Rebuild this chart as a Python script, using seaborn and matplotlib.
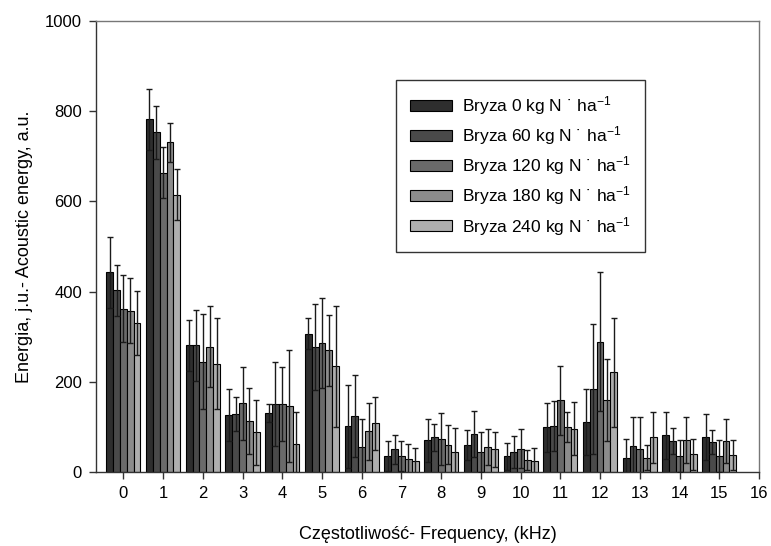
import numpy as np
import pandas as pd
import matplotlib
matplotlib.use('Agg')
import matplotlib.pyplot as plt
import seaborn as sns

# ==============================================================================
# Data (means and error half-widths per frequency band)
# ==============================================================================
freqs = list(range(16))
doses = ['0', '60', '120', '180', '240']

mean_0 = [443, 782, 281, 126, 130, 307, 101, 36, 70, 60, 35, 99, 110, 32, 81, 78]
mean_60 = [403, 753, 281, 128, 150, 277, 125, 50, 77, 85, 44, 102, 184, 58, 68, 67]
mean_120 = [362, 664, 245, 152, 150, 286, 55, 35, 73, 44, 52, 159, 289, 50, 36, 35]
mean_180 = [358, 731, 278, 114, 146, 270, 90, 29, 61, 55, 26, 100, 160, 32, 70, 69]
mean_240 = [330, 615, 240, 88, 63, 234, 108, 24, 44, 50, 24, 96, 221, 77, 39, 38]

err_0 = [79, 68, 57, 57, 20, 35, 93, 33, 47, 33, 30, 54, 73, 41, 52, 51]
err_60 = [56, 58, 79, 38, 93, 96, 91, 33, 30, 51, 36, 55, 145, 65, 29, 27]
err_120 = [74, 56, 106, 80, 82, 100, 62, 33, 57, 44, 44, 76, 154, 73, 35, 35]
err_180 = [73, 43, 90, 73, 124, 79, 64, 34, 43, 40, 22, 34, 91, 27, 51, 48]
err_240 = [71, 56, 101, 72, 70, 135, 59, 30, 54, 38, 29, 59, 121, 57, 34, 33]

means = [mean_0, mean_60, mean_120, mean_180, mean_240]
errs = [err_0, err_60, err_120, err_180, err_240]
colors = ['#2e2e2e', '#4a4a4a', '#6a6a6a', '#8c8c8c', '#aeaeae']

labels = [f'Bryza {d} kg N \u02d9 ha$^{{\\mathregular{{-1}}}}$' for d in doses]

rows = []
for lab, m, e in zip(labels, means, errs):
    for f, v, s in zip(freqs, m, e):
        rows.append({'freq': f, 'energy': v, 'err': s, 'group': lab})
df = pd.DataFrame(rows)

# ==============================================================================
# Plot
# ==============================================================================
sns.set_style('white')
plt.rcParams['font.family'] = ['Liberation Sans', 'DejaVu Sans']
plt.rcParams['mathtext.fontset'] = 'custom'
plt.rcParams['mathtext.rm'] = 'Liberation Sans'
plt.rcParams['mathtext.it'] = 'Liberation Sans'
plt.rcParams['text.color'] = 'black'
plt.rcParams['axes.labelcolor'] = 'black'
plt.rcParams['xtick.color'] = 'black'
plt.rcParams['ytick.color'] = 'black'

fig = plt.figure(figsize=(7.71, 5.46), dpi=100)
ax = fig.add_axes([0.1245, 0.1355, 0.8599, 0.826])

sns.barplot(data=df, x='freq', y='energy', hue='group', hue_order=labels,
            palette=colors, width=0.86, gap=0, errorbar=None,
            edgecolor='black', linewidth=0.8, saturation=1, ax=ax)

# error bars on top of each bar, positions taken from the drawn patches
n = len(freqs)
for i, lab in enumerate(labels):
    sub = df[df['group'] == lab]
    patches = ax.patches[i * n:(i + 1) * n]
    xs = [p.get_x() + p.get_width() / 2 for p in patches]
    ax.errorbar(xs, sub['energy'].values, yerr=sub['err'].values, fmt='none',
                ecolor='#1a1a1a', elinewidth=1.0, capsize=2.5, capthick=1.0, zorder=3)

ax.set_xlim(-0.69, 16)
ax.set_ylim(0, 1000)
ax.set_xticks(range(17))
ax.set_xticklabels([str(i) for i in range(17)])
ax.set_yticks(range(0, 1001, 200))

for side in ['left', 'bottom', 'top', 'right']:
    ax.spines[side].set_visible(True)
    ax.spines[side].set_color('#333333')
    ax.spines[side].set_linewidth(1.0)
ax.spines['top'].set_color('#777777')
ax.spines['right'].set_color('#777777')
ax.tick_params(axis='both', direction='out', length=5, width=1, color='#333333',
               labelsize=12, bottom=True, left=True, pad=5)

ax.set_xlabel('Częstotliwość- Frequency, (kHz)', fontsize=13, labelpad=18)
ax.set_ylabel('Energia, j.u.- Acoustic energy, a.u.', fontsize=13, labelpad=9)

leg = ax.legend(loc='upper left', bbox_to_anchor=(0.4525, 0.869), fontsize=12.5,
                frameon=True, fancybox=False, edgecolor='black',
                handlelength=2.4, handleheight=0.6, labelspacing=0.42,
                borderpad=0.8, handletextpad=0.6, borderaxespad=0)
leg.get_frame().set_linewidth(1.0)

plt.savefig('out.png', dpi=100)
plt.close(fig)
